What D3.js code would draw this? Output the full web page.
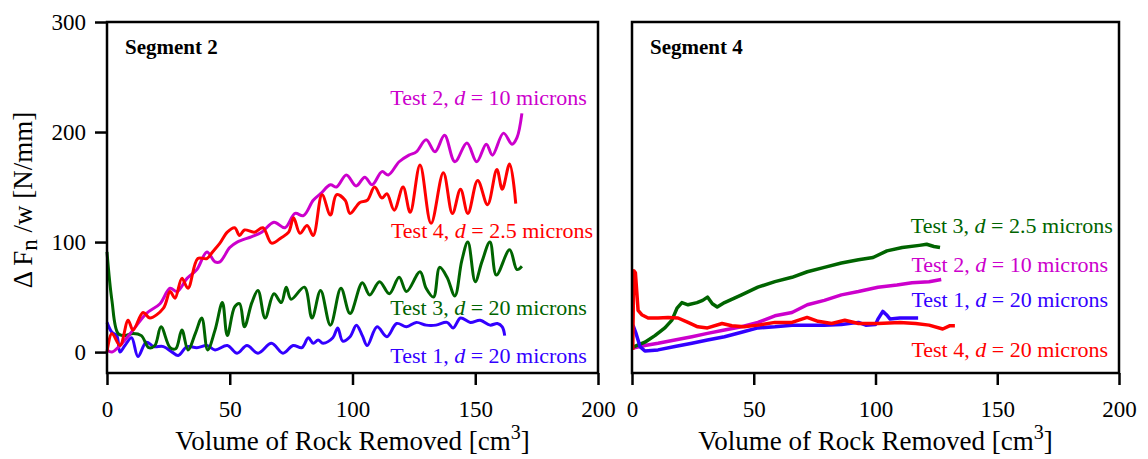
<!DOCTYPE html>
<html>
<head>
<meta charset="utf-8">
<script src="https://cdn.jsdelivr.net/npm/d3@7"></script>
<style>
  body { margin: 0; background: #fff; }
  svg { font-family: "Liberation Serif", "Times New Roman", serif; }
</style>
</head>
<body>
<svg id="chart" width="1148" height="459"></svg>
<script>
// colours
const colors = {
    test1: "#3300FF",
    test2: "#CC00CC",
    test3: "#006400",
    test4: "#FF0000"
};

// tick values
const xTicks = [0, 50, 100, 150, 200];
const yTicks = [0, 100, 200, 300];

// Segment 2 data: [volume cm3, dFn/w N/mm]
const seg2Test1 = [[0,27],[2,18],[4,15],[5.3,0],[7.3,6],[10,13],[12.6,-4],[16,9],[19,5],[23,5],[26.5,0],[29,-3],[32.6,5],[36.6,4],[40.7,6],[44,2],[49,6],[53,-1],[57,6],[61.5,-1],[67,8],[71.7,-1],[75.8,6],[79.4,4],[82,13],[84,8],[86,11],[88,8],[92,13],[94,22],[96,10],[99,14],[101.6,24.5],[104,15],[106,6],[110,23],[114,14],[118,26],[122,23],[126,27],[130,24.5],[134,24.5],[138.5,27],[141,22],[144,31],[148,27],[152,29],[156,24.5],[159,26],[161,23],[162,15]];
const seg2Test2 = [[0,2],[2,0],[5.3,6],[10.6,20],[16,35],[21.6,44],[25.7,58],[28.5,55],[32.6,67],[36.6,75],[40.7,91],[44,82],[46,82],[50,95],[53,100],[59,105],[63,109],[68,118],[72.5,113],[76.6,126],[80,124],[84,138],[87,144],[91,152],[93.5,150],[97.5,161],[101.5,151],[105,159],[108,152],[112,164],[114.6,161],[119,173],[123,179],[126,182],[130,193],[133.6,182],[137.5,197],[141.7,173],[146.6,190],[150.6,173],[154.5,189],[157,179],[161.5,199],[165,189],[167,195],[169,217]];
const seg2Test3 = [[0,91],[2,47],[4.5,17],[7.3,15],[10.6,17],[14,15],[17,4],[19.5,6],[22,23],[25.7,4],[28,3],[30.5,20],[33,2],[36,17],[38.6,31],[41,2],[44,20],[47,45],[49,15],[52,41],[54,44],[56,23],[59,45],[61.5,56],[64.4,31],[68,53],[71,45],[73,59],[75,48],[80.4,59],[83.5,31],[87,56],[91,24.5],[95.3,58],[99,35],[104,63],[107,52],[111,64],[115,53],[119,68],[122,55],[127.5,73],[130,58],[133,50],[135.5,77],[138.5,68],[141.7,51],[144.5,83],[147,100],[150,64],[152.7,82],[156,100],[158.6,70],[164,93],[167,75],[169,78]];
const seg2Test4 = [[0,0],[2,17],[5.3,6],[8.6,29],[10.6,20],[14.7,36],[17.5,31],[23,40],[25.7,55],[27.7,49],[30.5,67],[33,58],[37,85],[40.7,85],[43,91],[46,99],[49,109],[52,113],[54,106],[56,111],[60,109],[63.5,113],[67,99],[71,104],[74,109],[76,122],[78.6,108],[81.5,115],[84,106],[87.6,143],[91,124.5],[93.5,143],[97,138],[99,126],[103,136],[106,138],[109,150],[112,140],[114,144],[117,129],[120.6,150],[123.5,127],[127.5,170],[132,117],[137,163],[140.7,126],[144,148],[147,126],[151,156],[155,134],[158.8,166],[161,148],[164,171],[166.5,135]];

// Segment 4 data
const seg4Test1 = [[0.4,24.5],[1.5,18],[3.3,5],[5.3,1],[10.7,2],[17.6,5],[24.6,8],[31,11],[38,14],[45,18],[51.7,22],[58.7,23],[65.7,24.5],[72,24.5],[79,24.5],[86,25],[93,27],[96,24.5],[100,25],[101,30],[103,37],[104.5,34],[106,30],[110,31],[114,31],[117.5,31]];
const seg4Test2 = [[0.4,3.6],[5.3,6],[10.7,8],[17.6,11],[24.6,14],[31,17],[38,20],[45,23],[51.7,27],[58.7,33],[65.7,36],[72,43],[79,47],[86,52],[93,55],[101,59],[108.8,61],[115,63],[122,64],[127,66]];
const seg4Test3 = [[0.4,4.5],[5.3,9],[9.4,15],[13.5,22],[16.4,29],[18.5,40],[20.5,45],[23,43],[26.7,45],[29,47],[31,50],[33,44],[35,41],[38,45],[45,52],[51.7,59],[58.7,64],[65.7,68],[72,73],[79,77],[86,81],[93,84],[99,86],[104.7,92],[111,95],[118,97],[121,98],[124,96],[126.5,95]];
const seg4Test4 = [[0.3,2],[0.7,74],[1.4,72],[2.5,38],[4,34],[6.6,31],[10.7,31],[14.8,31.5],[18.9,31],[23,27],[27,23],[31,22],[37,26],[41,24],[46,23],[51.7,24.5],[58.7,27],[65.7,27],[71.9,31.5],[76.4,28],[82,26],[87.4,29],[93,26],[101,26],[110,27],[116.5,26],[122,24.5],[127.6,21],[130.6,24],[132.6,24]];

// labels
const seg2Labels = [
    { key: "test2", test: "Test 2, ", rest: " = 10 microns", x: 195.5, y: 225 },
    { key: "test4", test: "Test 4, ", rest: " = 2.5 microns", x: 198, y: 104 },
    { key: "test3", test: "Test 3, ", rest: " = 20 microns", x: 195.5, y: 34 },
    { key: "test1", test: "Test 1, ", rest: " = 20 microns", x: 195.5, y: -10 }
];
const seg4Labels = [
    { key: "test3", test: "Test 3, ", rest: " = 2.5 microns", x: 197.5, y: 108 },
    { key: "test2", test: "Test 2, ", rest: " = 10 microns", x: 195.5, y: 73 },
    { key: "test1", test: "Test 1, ", rest: " = 20 microns", x: 195.5, y: 41 },
    { key: "test4", test: "Test 4, ", rest: " = 20 microns", x: 195.5, y: -4.5 }
];

const svg = d3.select("#chart");
const plotTop = 22, plotBottom = 373;

drawPanel({
    left: 107, right: 598, title: "Segment 2", yAxis: true, lineWidth: 3,
    series: [["test1", seg2Test1], ["test3", seg2Test3], ["test2", seg2Test2], ["test4", seg2Test4]],
    labels: seg2Labels, curve: d3.curveCatmullRom
});
drawPanel({
    left: 632, right: 1119, title: "Segment 4", yAxis: false, lineWidth: 3.5,
    series: [["test2", seg4Test2], ["test3", seg4Test3], ["test1", seg4Test1], ["test4", seg4Test4]],
    labels: seg4Labels, curve: d3.curveLinear
});

// y axis title
const yTitle = svg.append("text")
    .attr("transform", "translate(32,200) rotate(-90)")
    .attr("text-anchor", "middle")
    .attr("font-size", 27);
yTitle.append("tspan").text("\u0394 F");
yTitle.append("tspan").attr("font-size", 23).attr("dy", 5).text("n");
yTitle.append("tspan").attr("dy", -5).text(" /w [N/mm]");

function drawPanel(p) {
    const x = d3.scaleLinear().domain([0, 200]).range([p.left, p.right]);
    const y = d3.scaleLinear().domain([-19, 300]).range([plotBottom, plotTop]);

    const g = svg.append("g");

    // lines
    const line = d3.line()
        .x(d => x(d[0]))
        .y(d => y(d[1]))
        .curve(p.curve);

    p.series.forEach(([key, data]) => {
        g.append("path")
            .datum(data)
            .attr("fill", "none")
            .attr("stroke", colors[key])
            .attr("stroke-width", p.lineWidth)
            .attr("stroke-linejoin", "round")
            .attr("d", line);
    });

    // frame
    g.append("rect")
        .attr("x", p.left)
        .attr("y", plotTop)
        .attr("width", p.right - p.left)
        .attr("height", plotBottom - plotTop)
        .attr("fill", "none")
        .attr("stroke", "#000")
        .attr("stroke-width", 2.5);

    // x axis
    const xa = g.append("g")
        .attr("transform", `translate(0,${plotBottom})`)
        .call(d3.axisBottom(x).tickValues(xTicks).tickSize(12).tickPadding(16).tickFormat(d3.format("d")))
        .attr("font-family", null)
        .attr("font-size", 23);
    xa.select(".domain").remove();
    xa.selectAll("line").attr("stroke-width", 2.5);
    xa.selectAll("text").attr("fill", "#000");

    if (p.yAxis) {
        const ya = g.append("g")
            .attr("transform", `translate(${p.left},0)`)
            .call(d3.axisLeft(y).tickValues(yTicks).tickSize(12).tickPadding(9))
            .attr("font-family", null)
            .attr("font-size", 23);
        ya.select(".domain").remove();
        ya.selectAll("line").attr("stroke-width", 2.5);
        ya.selectAll("text").attr("fill", "#000");
    }

    // x axis title
    const xt = g.append("text")
        .attr("x", (p.left + p.right) / 2)
        .attr("y", 450)
        .attr("text-anchor", "middle")
        .attr("font-size", 27);
    xt.append("tspan").text("Volume of Rock Removed [cm");
    xt.append("tspan").attr("font-size", 20).attr("dy", -11).text("3");
    xt.append("tspan").attr("dy", 11).text("]");

    // segment title
    g.append("text")
        .attr("x", p.left + 18)
        .attr("y", plotTop + 32)
        .attr("font-size", 21)
        .attr("font-weight", "bold")
        .text(p.title);

    // series labels
    p.labels.forEach(l => {
        const t = g.append("text")
            .attr("x", x(l.x))
            .attr("y", y(l.y))
            .attr("text-anchor", "end")
            .attr("font-size", 22)
            .attr("fill", colors[l.key]);
        t.append("tspan").text(l.test);
        t.append("tspan").attr("font-style", "italic").text("d");
        t.append("tspan").text(l.rest);
    });
}
</script>
</body>
</html>
